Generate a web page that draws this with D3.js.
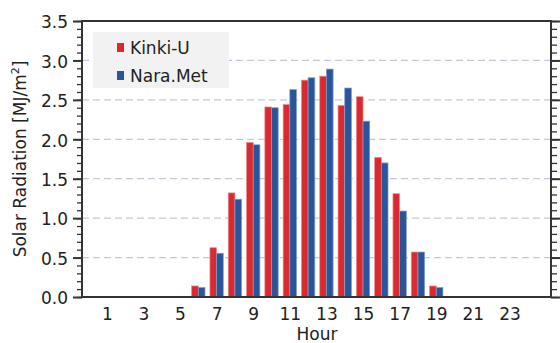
<!DOCTYPE html>
<html>
<head>
<meta charset="utf-8">
<script src="https://cdn.jsdelivr.net/npm/d3@7/dist/d3.min.js"></script>
<style>
  html, body { margin: 0; padding: 0; background: #fff; }
  svg { display: block; font-family: "DejaVu Sans", Verdana, sans-serif; }
</style>
</head>
<body>
<svg id="chart" width="560" height="343"></svg>
<script>
// Hourly solar radiation, two stations
const hours = d3.range(1, 25);
const kinkiU = [0, 0, 0, 0, 0, 0.14, 0.625, 1.32, 1.96, 2.41, 2.44, 2.75, 2.80, 2.43, 2.54, 1.77, 1.31, 0.57, 0.14, 0, 0, 0, 0, 0];
const naraMet = [0, 0, 0, 0, 0, 0.12, 0.555, 1.24, 1.93, 2.40, 2.63, 2.78, 2.89, 2.65, 2.23, 1.70, 1.09, 0.57, 0.12, 0, 0, 0, 0, 0];
const seriesNames = ["Kinki-U", "Nara.Met"];
const seriesColors = ["#da2a30", "#2a5699"];
const seriesStroke = ["#f08a8d", "#7d9fd2"];
const xTickLabels = [1, 3, 5, 7, 9, 11, 13, 15, 17, 19, 21, 23];
const yTicks = [0, 0.5, 1.0, 1.5, 2.0, 2.5, 3.0, 3.5];
const yGrid = [0.5, 1.0, 1.5, 2.0, 2.5, 3.0];

const svg = d3.select("#chart");
const plot = { left: 82, right: 551, top: 21, bottom: 297 };

const x = d3.scaleLinear().domain([-0.355, 25.27]).range([plot.left, plot.right]);
const y = d3.scaleLinear().domain([0, 3.5]).range([plot.bottom, plot.top]);

// dashed horizontal grid
svg.append("g").selectAll("line").data(yGrid).join("line")
  .attr("x1", plot.left).attr("x2", plot.right)
  .attr("y1", d => y(d)).attr("y2", d => y(d))
  .attr("stroke", "#c6c6e2").attr("stroke-width", 1.2)
  .attr("stroke-dasharray", "7,4");

// bars
const step = x(1) - x(0);
const bw = step * 0.365;
const series = [kinkiU, naraMet];
series.forEach((vals, si) => {
  svg.append("g").selectAll("rect").data(hours.map((h, i) => ({ h, v: vals[i] })).filter(d => d.v > 0))
    .join("rect")
    .attr("x", d => x(d.h) - bw + si * bw)
    .attr("y", d => y(d.v))
    .attr("width", bw)
    .attr("height", d => y(0) - y(d.v))
    .attr("fill", seriesColors[si])
    .attr("stroke", seriesStroke[si])
    .attr("stroke-width", 0.7);
});

// left axis
const yMinor = d3.range(0, 35.5, 1).map(d => d / 10);
const leftAxis = svg.append("g").attr("transform", `translate(${plot.left},0)`);
leftAxis.call(d3.axisLeft(y).tickValues(yMinor).tickSize(5).tickFormat(""));
leftAxis.call(g => g.select(".domain").remove());
leftAxis.selectAll(".tick line").attr("stroke", "#333").attr("stroke-width", 1.3);
const leftMajor = svg.append("g").attr("transform", `translate(${plot.left},0)`)
  .call(d3.axisLeft(y).tickValues(yTicks).tickSize(9).tickPadding(5).tickFormat(d3.format(".1f")));
leftMajor.select(".domain").remove();
leftMajor.selectAll(".tick line").attr("stroke", "#333").attr("stroke-width", 2);
leftMajor.selectAll(".tick text").attr("font-size", 17).attr("fill", "#222")
  .attr("font-family", "DejaVu Sans, Verdana, sans-serif").attr("dy", "0.4em");

// right axis (ticks only)
const rightAxis = svg.append("g").attr("transform", `translate(${plot.right},0)`);
rightAxis.call(d3.axisRight(y).tickValues(yMinor).tickSize(6).tickFormat(""));
rightAxis.select(".domain").remove();
rightAxis.selectAll(".tick line").attr("stroke", "#333").attr("stroke-width", 1.3);
const rightMajor = svg.append("g").attr("transform", `translate(${plot.right},0)`)
  .call(d3.axisRight(y).tickValues(yTicks).tickSize(9).tickFormat(""));
rightMajor.select(".domain").remove();
rightMajor.selectAll(".tick line").attr("stroke", "#333").attr("stroke-width", 2);

// bottom axis labels
const bottomAxis = svg.append("g").attr("transform", `translate(0,${plot.bottom})`)
  .call(d3.axisBottom(x).tickValues(xTickLabels).tickSize(0).tickPadding(11).tickFormat(d3.format("d")));
bottomAxis.select(".domain").remove();
bottomAxis.selectAll(".tick text").attr("font-size", 17).attr("fill", "#222")
  .attr("font-family", "DejaVu Sans, Verdana, sans-serif");

// frame
svg.append("rect")
  .attr("x", plot.left).attr("y", plot.top)
  .attr("width", plot.right - plot.left).attr("height", plot.bottom - plot.top)
  .attr("fill", "none").attr("stroke", "#333").attr("stroke-width", 2);

// axis titles
svg.append("text")
  .attr("x", (plot.left + plot.right) / 2 + 0.5).attr("y", 340)
  .attr("text-anchor", "middle").attr("font-size", 17).attr("fill", "#222")
  .text("Hour");

const yTitle = svg.append("text")
  .attr("transform", `translate(26,${(plot.top + plot.bottom) / 2}) rotate(-90)`)
  .attr("text-anchor", "middle").attr("font-size", 17).attr("fill", "#222");
yTitle.append("tspan").text("Solar Radiation [MJ/m");
yTitle.append("tspan").attr("font-size", 11).attr("dy", "-0.6em").text("2");
yTitle.append("tspan").attr("dy", "0.4em").text("]");

// legend
const legend = svg.append("g").attr("transform", "translate(93,32)");
legend.append("rect").attr("width", 136).attr("height", 56).attr("fill", "#f2f2f2");
seriesNames.forEach((name, i) => {
  const row = legend.append("g").attr("transform", `translate(0,${10 + i * 28})`);
  row.append("rect").attr("x", 24).attr("y", 1).attr("width", 7).attr("height", 9)
    .attr("fill", seriesColors[i]);
  row.append("text").attr("x", 37).attr("y", 11.5)
    .attr("font-size", 17).attr("fill", "#222").text(name);
});
</script>
</body>
</html>
